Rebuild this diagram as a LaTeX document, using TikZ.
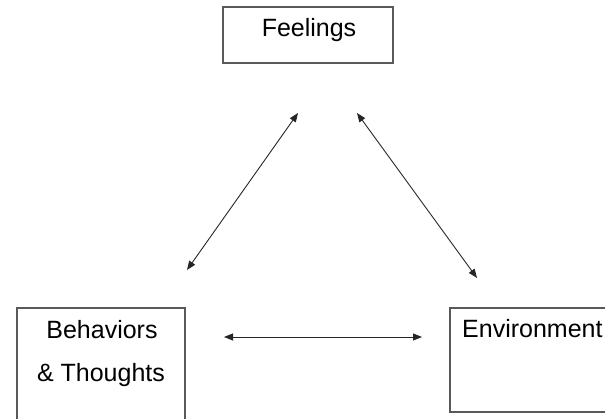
\documentclass[tikz,border=0pt]{standalone}
\usepackage{fontspec}
\setmainfont{Liberation Sans}
\usetikzlibrary{arrows.meta}
\begin{document}
\begin{tikzpicture}[x=1pt,y=-1pt,
  box/.style={draw=black!65, line width=1.1pt, inner sep=0pt},
  lbl/.style={anchor=base, inner sep=0pt, font=\fontsize{25}{30}\selectfont},
  link/.style={line width=0.9pt, draw=black!85, {Triangle[length=9pt,width=7pt]}-{Triangle[length=9pt,width=7pt]}}]
\useasboundingbox (0,0) rectangle (605,419);
\clip (0,0) rectangle (605,419);
% boxes
\node[box, minimum width=170pt, minimum height=56pt] (fbox) at (308,35) {};
\node[box, minimum width=168pt, minimum height=132pt] (bbox) at (101,374) {};
\node[box, minimum width=190pt, minimum height=104pt] (ebox) at (545,360) {};
% labels
\node[lbl] (ftext) at (309,37) {Feelings};
\node[lbl] (btext1) at (102,339) {Behaviors};
\node[lbl] (btext2) at (101,382) {\& Thoughts};
\node[lbl, anchor=base west] (etext) at (462,338) {Environment};
% connector ends
\coordinate (fl) at (298,113);
\coordinate (bl) at (187,270);
\coordinate (fr) at (357,113);
\coordinate (er) at (477,278);
\coordinate (bh) at (224,337);
\coordinate (eh) at (422,337);
% connectors
\draw[link] (fl) -- (bl);
\draw[link] (fr) -- (er);
\draw[link] (bh) -- (eh);
\end{tikzpicture}
\end{document}
